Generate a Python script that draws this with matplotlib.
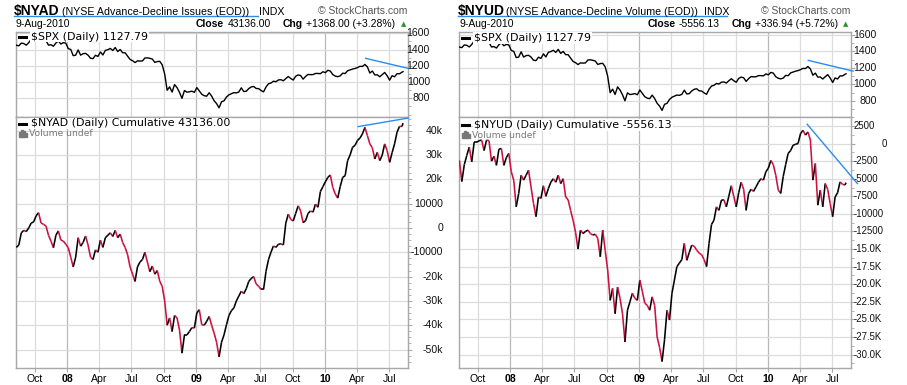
import matplotlib
matplotlib.use("Agg")
import matplotlib.pyplot as plt
import matplotlib.dates as mdates
import matplotlib.transforms as mtransforms
from matplotlib.collections import LineCollection
from matplotlib.lines import Line2D
from matplotlib.patches import Rectangle
from matplotlib.ticker import MultipleLocator
import numpy as np
import pandas as pd

plt.rcParams['font.family'] = ['Liberation Sans', 'DejaVu Sans']

# weekly (Friday) readings Aug 2007 .. Aug 2010, plus the last day 9-Aug-2010
week_dates = list(pd.date_range("2007-08-10", "2010-08-06", freq="W-FRI")) + [pd.Timestamp("2010-08-09")]

spx = [
    1453, 1446, 1479, 1474,                 # 2007 Aug
    1454, 1484, 1526, 1527,                 # Sep
    1558, 1562, 1501, 1535,                 # Oct
    1510, 1454, 1459, 1441, 1481,           # Nov
    1505, 1468, 1485, 1479,                 # Dec
    1412, 1401, 1325, 1331,                 # 2008 Jan
    1395, 1331, 1349, 1353, 1331,           # Feb
    1293, 1288, 1330, 1315,                 # Mar
    1370, 1333, 1390, 1398,                 # Apr
    1414, 1388, 1425, 1376, 1400,           # May
    1361, 1360, 1318, 1278,                 # Jun
    1263, 1240, 1261, 1258,                 # Jul
    1260, 1296, 1298, 1292, 1283,           # Aug
    1242, 1252, 1255, 1213,                 # Sep
    1099, 899, 941, 877, 969,               # Oct
    931, 873, 800, 896,                     # Nov
    876, 880, 888, 873,                     # Dec
    932, 890, 850, 832, 826,                # 2009 Jan
    869, 827, 770, 735,                     # Feb
    683, 757, 769, 816,                     # Mar
    843, 857, 870, 866,                     # Apr
    878, 929, 883, 887, 919,                # May
    940, 946, 921, 919,                     # Jun
    896, 879, 940, 979, 988,                # Jul
    1011, 1004, 1026, 1029,                 # Aug
    1016, 1043, 1068, 1044,                 # Sep
    1025, 1072, 1088, 1080, 1036,           # Oct
    1069, 1094, 1091, 1092,                 # Nov
    1106, 1106, 1103, 1127,                 # Dec
    1115, 1145, 1136, 1092, 1074,           # 2010 Jan
    1066, 1076, 1109, 1105,                 # Feb
    1139, 1150, 1160, 1167,                 # Mar
    1178, 1194, 1192, 1217, 1187,           # Apr
    1111, 1136, 1088, 1089,                 # May
    1065, 1092, 1118, 1077,                 # Jun
    1023, 1078, 1065, 1103, 1102,           # Jul
    1122, 1127.79,                          # Aug
]

# $NYAD cumulative, thousands
nyad = [
    -8.0, -7.0, -2.0, -1.0,
    -1.5, 0.0, 2.0, 2.5,
    5.0, 6.3, 2.0, 1.5,
    0.8, -3.0, -5.4, -8.1, -3.0,
    -1.2, -5.0, -5.4, -6.7,
    -8.1, -12.0, -16.0, -12.0,
    -4.0, -7.5, -6.0, -3.3, -7.0,
    -12.0, -13.0, -9.0, -10.0,
    -5.0, -8.0, -4.0, -3.0,
    -2.0, -3.5, -1.0, -4.0, -2.5,
    -6.0, -8.0, -11.0, -16.0,
    -19.0, -22.0, -16.0, -14.0,
    -13.0, -10.0, -14.0, -18.0, -15.7,
    -19.0, -17.5, -21.9, -24.0,
    -30.0, -40.0, -37.0, -42.6, -36.0,
    -37.0, -42.0, -51.5, -44.0,
    -44.0, -42.6, -41.0, -41.2,
    -35.0, -33.6, -39.8, -40.0, -38.4,
    -36.4, -40.0, -43.3, -47.0,
    -53.0, -47.0, -44.0, -39.8,
    -36.0, -34.0, -32.9, -30.0,
    -28.0, -26.0, -27.0, -25.0, -22.0,
    -20.8, -20.0, -23.0, -24.0,
    -25.3, -25.3, -17.8, -13.0, -10.0,
    -7.4, -8.0, -6.7, -6.5,
    -7.0, 2.0, 5.7, 3.5,
    2.9, 6.0, 9.1, 7.0, 2.2,
    3.0, 6.0, 7.0, 6.5,
    9.8, 8.5, 15.0, 17.0,
    19.0, 20.8, 21.8, 16.7, 14.0,
    12.3, 17.0, 20.8, 21.5,
    27.7, 30.0, 33.2, 34.0,
    36.0, 37.0, 38.7, 41.4, 38.0,
    34.6, 33.0, 28.4, 31.1,
    27.7, 30.0, 34.6, 31.8,
    27.0, 31.0, 34.6, 39.4, 41.8,
    41.768, 43.136,
]

# $NYUD cumulative, thousands
nyud = [
    -2.4, -5.4, -3.0, -1.7,
    -0.5, -2.6, 0.2, 0.2,
    0.4, 0.5, -1.0, 0.5,
    0.4, -2.5, -1.8, -3.1, -0.8,
    -0.7, -3.1, -2.0, -1.4,
    -4.0, -5.2, -9.0, -7.1,
    -4.5, -5.2, -4.5, -3.8, -6.2,
    -8.5, -10.4, -7.6, -7.8,
    -6.0, -7.5, -6.4, -5.5,
    -5.0, -5.5, -4.5, -5.7, -5.0,
    -7.6, -8.0, -9.5, -10.9,
    -12.6, -15.0, -12.3, -12.8,
    -12.5, -12.3, -12.8, -13.0, -12.9,
    -13.5, -16.1, -12.3, -15.2,
    -18.0, -22.3, -20.6, -24.2, -20.4,
    -22.0, -24.2, -28.2, -23.7,
    -22.5, -21.3, -22.0, -22.3,
    -19.4, -21.0, -22.7, -23.0, -23.7,
    -21.8, -23.0, -27.5, -29.0,
    -31.0, -27.9, -23.7, -25.1,
    -21.3, -19.4, -17.5, -17.0,
    -16.5, -14.2, -16.6, -15.5, -14.45,
    -14.6, -15.15, -15.6, -15.8,
    -16.5, -17.5, -14.2, -11.5, -10.9,
    -9.0, -9.5, -8.05, -8.0,
    -9.0, -7.5, -6.0, -7.5,
    -9.0, -7.0, -5.5, -6.5, -9.5,
    -7.1, -6.5, -6.8, -6.16,
    -5.5, -5.0, -5.2, -4.0,
    -3.5, -2.4, -3.0, -4.5, -6.6,
    -7.1, -4.7, -3.0, -1.4,
    -1.0, -0.24, -0.1, 0.0,
    1.4, 1.9, 1.2, 1.65, 0.5,
    -5.2, -2.84, -8.76, -6.63,
    -9.0, -5.68, -6.5, -8.52,
    -10.4, -7.6, -7.0, -5.45, -5.8,
    -5.893, -5.556,
]

# x axis ticks
tick_dates = pd.to_datetime(["2007-10-01", "2008-01-01", "2008-04-01", "2008-07-01",
                             "2008-10-01", "2009-01-01", "2009-04-01", "2009-07-01",
                             "2009-10-01", "2010-01-01", "2010-04-01", "2010-07-01"])
tick_labels = ["Oct", "08", "Apr", "Jul", "Oct", "09", "Apr", "Jul", "Oct", "10", "Apr", "Jul"]
year_labels = ["08", "09", "10"]

spx_ticks = [800, 1000, 1200, 1400, 1600]
nyad_ticks = [40, 30, 20, 10, 0, -10, -20, -30, -40, -50]
nyad_labels = ["40k", "30k", "20k", "10000", "0", "-10000", "-20k", "-30k", "-40k", "-50k"]
nyud_ticks = [2.5, 0, -2.5, -5, -7.5, -10, -12.5, -15, -17.5, -20, -22.5, -25, -27.5, -30]
nyud_labels = ["2500", "0", "-2500", "-5000", "-7500", "-10000", "-12500", "-15.0K",
               "-17.5K", "-20.0K", "-22.5K", "-25.0K", "-27.5K", "-30.0K"]

# blue trend lines drawn on the chart
trend_spx_l = (pd.to_datetime(["2010-04-25", "2010-08-23"]), [1292, 1169])
trend_nyad = (pd.to_datetime(["2010-04-04", "2010-08-23"]), [41.7, 45.2])
trend_spx_r = (pd.to_datetime(["2010-04-24", "2010-08-29"]), [1291, 1161])
trend_nyud = (pd.to_datetime(["2010-04-21", "2010-09-10"]), [2.74, -5.68])

W, H = 907, 385
GRID = '#dcdcdc'
YEARGRID = '#b8b8b8'
FRAME = '#a8a8a8'
RED = '#cc1040'
BLUE = '#2b8cf0'
XLIM = (pd.Timestamp("2007-08-09"), pd.Timestamp("2010-08-23"))

fig = plt.figure(figsize=(W / 100, H / 100), dpi=100)
fig.patch.set_facecolor('white')


def px(x, y):
    return x / W, 1 - y / H


def axes_px(x0, y0, x1, y1):
    return fig.add_axes([x0 / W, 1 - y1 / H, (x1 - x0) / W, (y1 - y0) / H])


def style_axes(ax, ylim, yticks, minor):
    ax.set_xlim(XLIM)
    ax.set_ylim(ylim)
    ax.set_xticks(tick_dates)
    ax.set_yticks(yticks)
    ax.yaxis.set_minor_locator(MultipleLocator(minor))
    ax.grid(True, color=GRID, linewidth=0.9)
    for lbl, gl in zip(tick_labels, ax.xaxis.get_gridlines()):
        if lbl in year_labels:
            gl.set_color(YEARGRID)
    ax.set_axisbelow(True)
    for s in ax.spines.values():
        s.set_color(FRAME)
        s.set_linewidth(1)
    ax.tick_params(axis='y', which='both', left=False, right=True, labelleft=False,
                   labelright=False, color=FRAME, direction='out')
    ax.tick_params(axis='y', which='major', length=3)
    ax.tick_params(axis='y', which='minor', length=2)
    ax.tick_params(axis='x', color=FRAME, length=3, direction='out')


def ylabels(ax, ticks, labels, xfrac, ha='right', size=7.6):
    tr = mtransforms.blended_transform_factory(ax.transAxes, ax.transData)
    for t, l in zip(ticks, labels):
        ax.text(xfrac, t, l, transform=tr, ha=ha, va='center', fontsize=size,
                color='#111111', clip_on=False)


def updown(ax, dates, vals):
    xn = mdates.date2num(dates)
    pts = np.column_stack([xn, vals])
    segs = np.stack([pts[:-1], pts[1:]], axis=1)
    cols = np.where(np.diff(vals) >= 0, 'black', RED)
    ax.add_collection(LineCollection(segs, colors=cols, linewidths=1.15, zorder=3))


def legend(x, y, text):
    # x, y in figure pixels
    fig.add_artist(Line2D([x / W, (x + 7) / W], [1 - y / H, 1 - y / H], color='black',
                          linewidth=2.2, transform=fig.transFigure, zorder=10))
    fig.text((x + 12) / W, 1 - y / H, text, family='DejaVu Sans', fontsize=7.9, va='center',
             ha='left', zorder=9,
             bbox=dict(facecolor='white', edgecolor='none', pad=0.6))


def volume_undef(x, y):
    for i, hgt in enumerate([5, 7, 6, 4]):
        fig.add_artist(Rectangle(((x + i * 2.2) / W, 1 - (y + 3.5) / H), 1.6 / W, hgt / H,
                                 transform=fig.transFigure, color='#777777', zorder=10))
    fig.text((x + 10) / W, 1 - y / H, "Volume undef", family='DejaVu Sans', fontsize=6.6,
             va='center', ha='left', color='#777777', zorder=9)


def header(x0, sym, desc, indx_x, ul_end, copy_right, close_parts, tri_x):
    fig.text(*px(x0, 15), sym, fontsize=10, fontweight='bold', va='baseline', ha='left')
    fig.text(*px(x0 + 48, 15), desc, fontsize=7.7, va='baseline', ha='left')
    fig.text(*px(indx_x, 15), "INDX", fontsize=7.7, va='baseline', ha='left')
    fig.add_artist(Line2D([x0 / W, ul_end / W], [1 - 16.3 / H] * 2, color=BLUE, linewidth=1,
                          transform=fig.transFigure))
    fig.text(*px(copy_right, 14.5), "\u00a9 StockCharts.com", fontsize=7.5, color='#555555',
             va='baseline', ha='right')
    fig.text(*px(x0 + 2, 27), "9-Aug-2010", fontsize=7.5, va='baseline', ha='left')
    for x, txt, bold in close_parts:
        fig.text(*px(x, 27), txt, fontsize=7.5, va='baseline', ha='left',
                 fontweight='bold' if bold else 'normal')
    fig.text(*px(tri_x, 26.5), "\u25b2", fontsize=5, color='#2f8f2f', va='baseline', ha='center',
             family='DejaVu Sans')


def side(x0, x1, spx_ylim, low_vals, low_ylim, low_ticks, low_minor,
         spx_label_x, spx_trend, low_trend, low_label_fn):
    top = axes_px(x0, 32, x1, 117)
    low = axes_px(x0, 117, x1, 367.5)
    style_axes(top, spx_ylim, spx_ticks, 100)
    top.tick_params(axis='x', labelbottom=False, length=0)
    top.plot(week_dates, spx, color='black', linewidth=1.0, zorder=3)
    top.plot(spx_trend[0], spx_trend[1], color=BLUE, linewidth=1.0, clip_on=False, zorder=4)
    ylabels(top, spx_ticks, [str(v) for v in spx_ticks], spx_label_x)

    style_axes(low, low_ylim, low_ticks, low_minor)
    low.set_xticklabels(tick_labels, fontsize=7.6)
    low.tick_params(axis='x', pad=1.5)
    for lbl in low.get_xticklabels():
        if lbl.get_text() in year_labels:
            lbl.set_fontweight('bold')
    updown(low, week_dates, low_vals)
    low.plot(low_trend[0], low_trend[1], color=BLUE, linewidth=1.0, clip_on=False, zorder=4)
    low_label_fn(low)
    return top, low


# left chart: $NYAD
side(16, 408, (570, 1616), nyad, (-57.4, 45.65), nyad_ticks, 2.5, 1.056,
     trend_spx_l, trend_nyad,
     lambda ax: ylabels(ax, nyad_ticks, nyad_labels, (443 - 16) / 392))
header(14, "$NYAD", "(NYSE Advance-Decline Issues (EOD))", 259, 258, 407,
       [(196, "Close", True), (227.5, "43136.00", False), (282.5, "Chg", True),
        (305.5, "+1368.00 (+3.28%)", False)], 404)
legend(19, 36.5, "$SPX (Daily) 1127.79")
legend(19, 123.5, "$NYAD (Daily) Cumulative 43136.00")
volume_undef(19, 133.5)


# right chart: $NYUD
def nyud_labels_fn(ax):
    plain = [(t, l) for t, l in zip(nyud_ticks, nyud_labels) if l != "0"]
    ylabels(ax, [p[0] for p in plain], [p[1] for p in plain], (854 - 459) / 392,
            ha='left', size=6.9)
    ylabels(ax, [0], ["0"], (886.7 - 459) / 392, ha='right', size=6.9)


side(459, 851, (603, 1636), nyud, (-31.845, 3.777), nyud_ticks, 1.25,
     (876.7 - 459) / 392, trend_spx_r, trend_nyud, nyud_labels_fn)
header(458, "$NYUD", "(NYSE Advance-Decline Volume (EOD))", 704, 727, 850,
       [(648, "Close", True), (678.5, "-5556.13", False), (731.5, "Chg", True),
        (755, "+336.94 (+5.72%)", False)], 846)
legend(462, 38, "$SPX (Daily) 1127.79")
legend(462, 125, "$NYUD (Daily) Cumulative -5556.13")
volume_undef(462, 135)

fig.savefig("out.png", dpi=100, facecolor='white')
